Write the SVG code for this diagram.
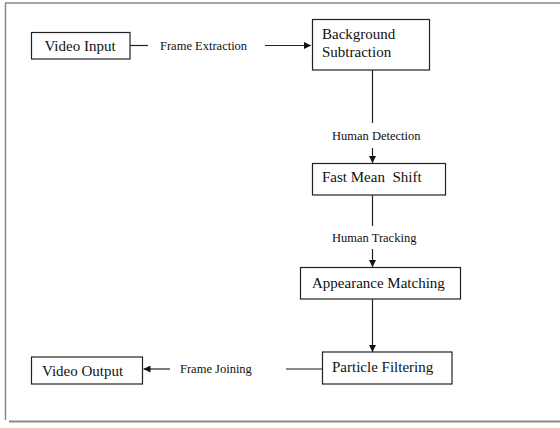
<svg xmlns="http://www.w3.org/2000/svg" width="560" height="428" viewBox="0 0 560 428">
<style>
.box{fill:#fff;stroke:#222;stroke-width:1.2}
text{font-family:'Liberation Serif','Times New Roman','DejaVu Serif',serif;fill:#111}
.nt{font-size:15px}
.lt{font-size:12.5px}
.c{fill:none;stroke:#222;stroke-width:1.2}
.g{fill:none;stroke:#666;stroke-width:1.3}
.fr{fill:none;stroke:#888}
</style>
<defs>
<marker id="ah" viewBox="0 0 10 10" refX="10" refY="5" markerWidth="7" markerHeight="7" markerUnits="userSpaceOnUse" orient="auto">
<path d="M0,0 L10,5 L0,10 z" fill="#111"/>
</marker>
</defs>
<g id="frame">
<line class="fr" x1="5" y1="3" x2="560" y2="3" stroke-width="1.5"/>
<line class="fr" x1="5.5" y1="3" x2="5.5" y2="420" stroke-width="1.5"/>
<line class="fr" x1="9" y1="421.5" x2="560" y2="421.5" stroke-width="2"/>
</g>
<g id="connectors">
<line class="c" x1="130" y1="45.5" x2="148" y2="45.5"/>
<line class="c" x1="265" y1="45.5" x2="311" y2="45.5" marker-end="url(#ah)"/>
<line class="c" x1="372.5" y1="70" x2="372.5" y2="123"/>
<line class="c" x1="372.5" y1="148" x2="372.5" y2="163" marker-end="url(#ah)"/>
<line class="c" x1="372.5" y1="195" x2="372.5" y2="226"/>
<line class="c" x1="372.5" y1="249" x2="372.5" y2="267" marker-end="url(#ah)"/>
<line class="c" x1="372.5" y1="299" x2="372.5" y2="352" marker-end="url(#ah)"/>
<line class="g" x1="322" y1="369" x2="286" y2="369"/>
<line class="c" x1="170" y1="369" x2="143.5" y2="369" marker-end="url(#ah)"/>
<text class="lt" x="160" y="50" font-family="Liberation Serif, serif">Frame Extraction</text>
<text class="lt" x="332" y="140" font-family="Liberation Serif, serif">Human Detection</text>
<text class="lt" x="332" y="241.5" font-family="Liberation Serif, serif">Human Tracking</text>
<text class="lt" x="180" y="372.5" font-family="Liberation Serif, serif">Frame Joining</text>
</g>
<g id="video-input">
<rect class="box" x="31.5" y="32.5" width="98.5" height="26.5"/>
<text class="nt" x="80" y="51" text-anchor="middle">Video Input</text>
</g>
<g id="background-subtraction">
<rect class="box" x="312.5" y="19.5" width="117" height="50.5"/>
<text class="nt" x="322" y="39.3">Background</text>
<text class="nt" x="322" y="56.7">Subtraction</text>
</g>
<g id="fast-mean-shift">
<rect class="box" x="312.5" y="163.5" width="133" height="31.5"/>
<text class="nt" x="322" y="181.7" xml:space="preserve">Fast Mean  Shift</text>
</g>
<g id="appearance-matching">
<rect class="box" x="300.5" y="267.5" width="160" height="31.5"/>
<text class="nt" x="312" y="288">Appearance Matching</text>
</g>
<g id="particle-filtering">
<rect class="box" x="322.5" y="352" width="129.5" height="32"/>
<text class="nt" x="332" y="372">Particle Filtering</text>
</g>
<g id="video-output">
<rect class="box" x="31.5" y="357" width="111" height="27"/>
<text class="nt" x="42" y="376">Video Output</text>
</g>
</svg>
